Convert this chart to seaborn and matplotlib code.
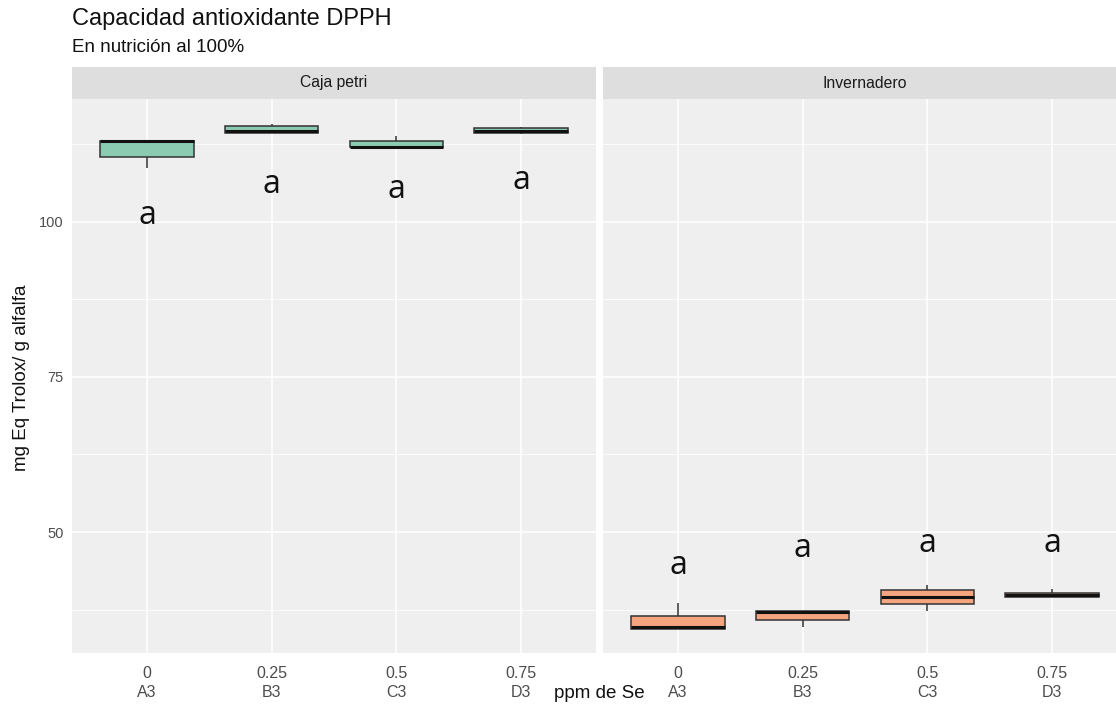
import numpy as np
import pandas as pd
import matplotlib
matplotlib.use("Agg")
import matplotlib.pyplot as plt
import seaborn as sns

# ---------------- data ----------------
doses = ["0", "0.25", "0.5", "0.75"]
codes = ["A3", "B3", "C3", "D3"]
panels = ["Caja petri", "Invernadero"]

# five values per group (min, q1, median, q3, max)
petri_A3 = [108.7, 110.5, 113.0, 113.1, 113.2]
petri_B3 = [114.3, 114.4, 114.6, 115.5, 115.8]
petri_C3 = [112.0, 112.0, 112.1, 113.0, 113.9]
petri_D3 = [114.2, 114.3, 114.7, 115.1, 115.3]

inv_A3 = [34.35, 34.35, 34.7, 36.5, 38.5]
inv_B3 = [34.7, 35.76, 37.15, 37.26, 37.26]
inv_C3 = [37.3, 38.4, 39.57, 40.6, 41.4]
inv_D3 = [39.5, 39.5, 39.84, 40.2, 40.8]

# letter annotations (y positions)
petri_letters = ["a", "a", "a", "a"]
petri_letter_y = [101.1, 106.0, 105.2, 106.6]
inv_letters = ["a", "a", "a", "a"]
inv_letter_y = [44.6, 47.3, 48.1, 48.1]

y_ticks = [50, 75, 100]

title = "Capacidad antioxidante DPPH"
subtitle = "En nutrición al 100%"
y_label = "mg Eq Trolox/ g alfalfa"
x_label = "ppm de Se"

fill_colors = {"Caja petri": "#8BCBB1", "Invernadero": "#F4A47E"}

# ---------------- build table ----------------
tick_labels = [f"{d}\n{c}" for d, c in zip(doses, codes)]
groups = {
    "Caja petri": [petri_A3, petri_B3, petri_C3, petri_D3],
    "Invernadero": [inv_A3, inv_B3, inv_C3, inv_D3],
}
rows = []
for p in panels:
    for lab, vals in zip(tick_labels, groups[p]):
        for v in vals:
            rows.append({"panel": p, "dose": lab, "value": v})
df = pd.DataFrame(rows)

# ---------------- figure ----------------
sns.set_theme(style="white")
plt.rcParams["font.family"] = ["Liberation Sans", "DejaVu Sans"]

W, H = 1116, 712
fig = plt.figure(figsize=(W / 100, H / 100), dpi=100)

def fx(px):
    return px / W

def fy(py):
    return 1 - py / H

panel_top, panel_bot = 99, 653
strip_top = 67
lefts = [72.2, 603.2]
pw = 523.6

PANEL_BG = "#EFEFEF"
STRIP_BG = "#DEDEDE"

axes = []
for i, p in enumerate(panels):
    ax = fig.add_axes([fx(lefts[i]), fy(panel_bot), fx(pw), (panel_bot - panel_top) / H])
    axes.append(ax)
    sub = df[df["panel"] == p]
    sns.boxplot(
        data=sub, x="dose", y="value", order=tick_labels, ax=ax,
        color=fill_colors[p], saturation=1, width=0.75, whis=1.5,
        linecolor="#333333", linewidth=1.1, showcaps=False, showfliers=False,
        medianprops={"color": "#111111", "linewidth": 2.2},
        zorder=3,
    )
    ax.set_facecolor(PANEL_BG)
    ax.set_xlim(-0.6, 3.6)
    ax.set_ylim(30.5, 119.8)
    ax.set_yticks(y_ticks)
    ax.set_yticks([37.5, 62.5, 87.5, 112.5], minor=True)
    ax.grid(True, which="major", color="white", linewidth=1.1, zorder=0)
    ax.grid(True, which="minor", axis="y", color="white", linewidth=0.55, zorder=0)
    ax.set_axisbelow(True)
    for s in ax.spines.values():
        s.set_visible(False)
    ax.set_xlabel("")
    ax.set_ylabel("")
    ax.tick_params(axis="x", which="major", length=4, width=0.8, color="#555555",
                   labelsize=11.5, labelcolor="#4D4D4D", pad=5)
    for t in ax.get_xticklabels():
        t.set_linespacing(1.4)
    ax.tick_params(axis="y", which="minor", length=0)
    if i == 0:
        ax.tick_params(axis="y", which="major", length=4, width=0.8, color="#555555",
                       labelsize=10.5, labelcolor="#4D4D4D", pad=2)
    else:
        ax.tick_params(axis="y", which="major", length=0, labelleft=False)

    letters = petri_letters if i == 0 else inv_letters
    ly = petri_letter_y if i == 0 else inv_letter_y
    for k, (lt, yy) in enumerate(zip(letters, ly)):
        ax.text(k, yy, lt, ha="center", va="center", fontsize=23,
                family=["Open Sans", "DejaVu Sans"], color="#111111", zorder=5)

    # strip
    sax = fig.add_axes([fx(lefts[i]), fy(panel_top), fx(pw), (panel_top - strip_top) / H])
    sax.set_facecolor(STRIP_BG)
    sax.set_xticks([])
    sax.set_yticks([])
    for s in sax.spines.values():
        s.set_visible(False)
    sax.text(0.5, 0.5, p, ha="center", va="center", fontsize=11.3,
             color="#1A1A1A", transform=sax.transAxes)

fig.text(fx(72), fy(19), title, ha="left", va="center", fontsize=17, color="#111111")
fig.text(fx(72), fy(47), subtitle, ha="left", va="center", fontsize=13.5, color="#111111")
fig.text(fx(22), fy(378), y_label, ha="center", va="center", rotation=90,
         fontsize=13.5, color="#111111")
fig.text(fx(599), fy(694), x_label, ha="center", va="center", fontsize=13.5,
         color="#111111")

fig.savefig("out.png", dpi=100, facecolor="white")
